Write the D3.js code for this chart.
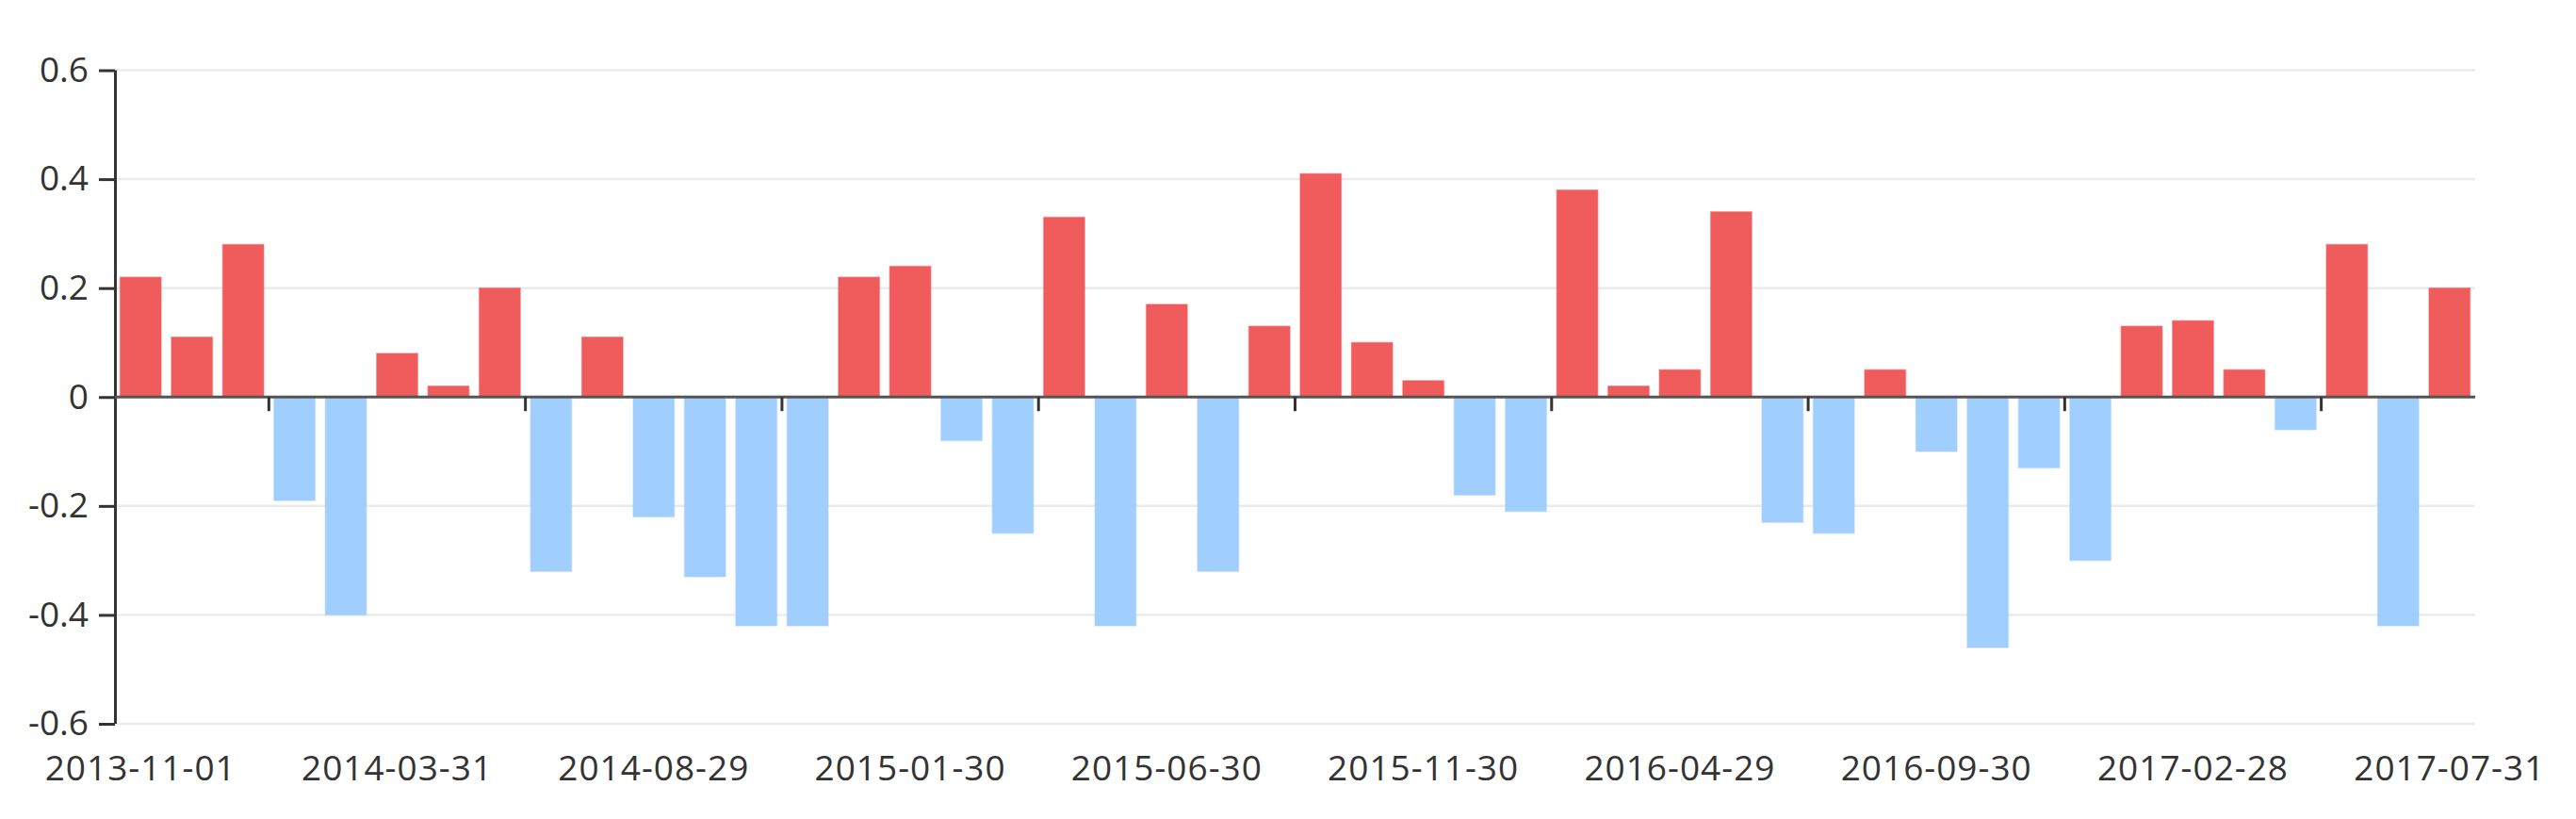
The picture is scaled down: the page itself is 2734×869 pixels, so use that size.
<!DOCTYPE html>
<html>
<head>
<meta charset="utf-8">
<script src="https://cdn.jsdelivr.net/npm/d3@7"></script>
<style>
  html, body { margin: 0; padding: 0; background: #fff; }
  svg { display: block; }
</style>
</head>
<body>
<svg id="chart" width="2734" height="869"></svg>
<script>
const categories = [
  "2013-11-01","2013-11-29","2013-12-31","2014-01-30","2014-02-28",
  "2014-03-31","2014-04-30","2014-05-30","2014-06-30","2014-07-31",
  "2014-08-29","2014-09-30","2014-10-31","2014-11-28","2014-12-31",
  "2015-01-30","2015-02-27","2015-03-31","2015-04-30","2015-05-29",
  "2015-06-30","2015-07-31","2015-08-31","2015-09-30","2015-10-30",
  "2015-11-30","2015-12-31","2016-01-29","2016-02-29","2016-03-31",
  "2016-04-29","2016-05-31","2016-06-30","2016-07-29","2016-08-31",
  "2016-09-30","2016-10-31","2016-11-30","2016-12-30","2017-01-26",
  "2017-02-28","2017-03-31","2017-04-28","2017-05-31","2017-06-30",
  "2017-07-31"
];
const values = [
  0.22, 0.11, 0.28, -0.19, -0.40,
  0.08, 0.02, 0.20, -0.32, 0.11,
  -0.22, -0.33, -0.42, -0.42, 0.22,
  0.24, -0.08, -0.25, 0.33, -0.42,
  0.17, -0.32, 0.13, 0.41, 0.10,
  0.03, -0.18, -0.21, 0.38, 0.02,
  0.05, 0.34, -0.23, -0.25, 0.05,
  -0.10, -0.46, -0.13, -0.30, 0.13,
  0.14, 0.05, -0.06, 0.28, -0.42,
  0.20
];
const yTicks = [-0.6, -0.4, -0.2, 0, 0.2, 0.4, 0.6];
const yTickLabels = ["-0.6", "-0.4", "-0.2", "0", "0.2", "0.4", "0.6"];
const xLabelCategories = ["2013-11-01","2014-03-31","2014-08-29","2015-01-30","2015-06-30",
  "2015-11-30","2016-04-29","2016-09-30","2017-02-28","2017-07-31"];
const xTickBoundaries = [3, 8, 13, 18, 23, 28, 33, 38, 43];

const upColor = "#f05b5c";
const downColor = "#a0cfff";

const mLeft = 122, mRight = 2627, mTop = 74.5, mBottom = 768;
const svg = d3.select("#chart");

const x = d3.scaleBand().domain(categories).range([mLeft, mRight])
  .paddingInner(0.2).paddingOuter(0.1);
const y = d3.scaleLinear().domain([-0.6, 0.6]).range([mBottom, mTop]);
const step = x.step();

// gridlines
svg.append("g").selectAll("line")
  .data(yTicks.filter(d => d !== 0))
  .join("line")
  .attr("x1", mLeft).attr("x2", mRight)
  .attr("y1", d => y(d)).attr("y2", d => y(d))
  .attr("stroke", "#ebebeb").attr("stroke-width", 2.5);

// bars
svg.append("g").selectAll("rect")
  .data(values.map((v, i) => ({ c: categories[i], v })))
  .join("rect")
  .attr("x", d => x(d.c))
  .attr("width", x.bandwidth())
  .attr("y", d => y(Math.max(0, d.v)))
  .attr("height", d => Math.abs(y(d.v) - y(0)))
  .attr("fill", d => d.v >= 0 ? upColor : downColor)
  .attr("stroke", d => d.v >= 0 ? upColor : downColor)
  .attr("stroke-opacity", 0.45)
  .attr("stroke-width", 1.5);

// y axis
const yAxis = svg.append("g")
  .attr("transform", `translate(${mLeft},0)`)
  .call(d3.axisLeft(y).tickValues(yTicks).tickSize(17).tickPadding(11)
    .tickFormat((d, i) => yTickLabels[i]));
yAxis.select(".domain").attr("stroke", "#333").attr("stroke-width", 3)
  .attr("d", `M0.5,${y(0.6)}V${y(-0.6)}`);
yAxis.selectAll(".tick line").attr("stroke", "#333").attr("stroke-width", 3);
yAxis.selectAll(".tick text")
  .attr("fill", "#333")
  .style("font-family", "'Open Sans', 'Noto Sans', sans-serif")
  .style("font-size", "37px");

// x axis line at zero
const zeroY = y(0);
svg.append("line")
  .attr("x1", mLeft).attr("x2", mRight)
  .attr("y1", zeroY).attr("y2", zeroY)
  .attr("stroke", "#555").attr("stroke-width", 3);

// x ticks at category boundaries
svg.append("g").selectAll("line")
  .data(xTickBoundaries)
  .join("line")
  .attr("x1", i => x(categories[i]) - step * 0.1)
  .attr("x2", i => x(categories[i]) - step * 0.1)
  .attr("y1", zeroY).attr("y2", zeroY + 15)
  .attr("stroke", "#333").attr("stroke-width", 3);

// x labels at bottom
const xAxis = svg.append("g")
  .attr("transform", `translate(0,${mBottom})`)
  .call(d3.axisBottom(x).tickValues(xLabelCategories).tickSize(0).tickPadding(34));
xAxis.select(".domain").remove();
xAxis.selectAll(".tick text")
  .attr("fill", "#333")
  .style("font-family", "'Open Sans', 'Noto Sans', sans-serif")
  .style("font-size", "37px")
  .style("letter-spacing", "1px");
</script>
</body>
</html>
